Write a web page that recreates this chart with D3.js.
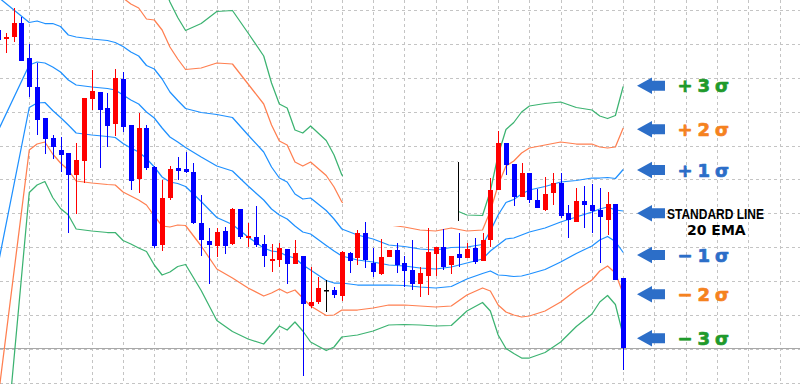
<!DOCTYPE html>
<html><head><meta charset="utf-8">
<script src="https://cdn.jsdelivr.net/npm/d3@7"></script>
<style>html,body{margin:0;padding:0;background:#fff;overflow:hidden}</style>
</head><body>
<svg id="chart" width="800" height="384"></svg>
<script>
// ---------- DATA (price in points) ----------
const candleOpen  = [353,344,346,360,325,296,265,245,233,230,208,222,284,291,275,259,304,258,204,255,216,138,185,215,214,211,160,142,137,152,139,174,145,146,139,122,123,134,119,127,77,81,93,93,87,130,125,150,120,109,126,133,120,113,99,107,129,136,118,129,125,135,122,143,193,240,219,186,210,183,173,190,200,170,161,182,178,173,163,179,105];
const candleHigh  = [355,350,375,366,339,320,265,248,246,230,240,285,313,291,290,314,311,258,270,258,217,203,217,226,231,220,188,155,155,156,175,174,160,177,148,139,140,134,143,127,116,106,103,96,132,131,153,161,135,144,133,140,127,143,116,155,136,154,127,150,140,145,150,205,252,240,219,220,210,194,206,210,210,178,195,197,199,195,191,179,105];
const candleLow   = [341,330,341,322,286,248,229,224,211,150,169,200,273,215,236,247,251,193,190,213,135,132,183,203,210,159,127,99,126,129,138,144,136,136,116,111,116,99,119,7,75,79,71,85,82,110,118,115,106,108,126,110,96,93,86,88,107,113,109,116,125,119,122,136,193,208,177,186,180,175,172,178,165,145,161,155,150,120,148,103,13];
const candleClose = [343,346,360,322,296,263,244,236,228,208,223,285,292,273,257,305,256,202,255,215,137,185,214,212,211,160,143,138,151,137,174,146,147,138,127,124,135,119,130,79,81,95,93,88,131,122,150,123,111,126,133,118,112,99,110,131,136,116,127,125,134,121,143,193,240,218,186,210,183,175,189,200,167,163,182,178,172,166,179,103,35];

// Bollinger bands (20 EMA) read at bar indices
const bandIndex = [0,4,5,6,7,8,9,10,12,14,15,16,17,18,19,20,21,22,23,24,26,28,30,32,34,35,36,37,38,39,40,42,43,44,46,48,50,52,54,56,58,60,62,63,64,65,66,67,68,70,72,74,76,77,78,79,80];
const bandMid = [252,318,321,320,316,311,303,298,296,294.5,293,288,283,279,271,265,255,246,241,235.5,226,217,212,197,183,174,168,164,157,151,149,137.5,132,127,123,121,118,117,115,114,116,120,124,132,138,144,145,148,151,155,161,166,171,174,176,173,172];
const bandUp1 = [386,360.5,362,359.5,359.5,356.5,348,346,344,342.5,340.5,336.5,331,327,317.5,314,304,291,282.5,274.5,270.5,268.5,265.5,248,231,216,205,201,189,184,185,172.5,164,154,148,144,138,136.5,134,133,135.5,136,138.5,152,168,180.5,183.5,189,193,196.5,201,202.5,205,205,205.5,204.5,213.5];
const bandUp2 = [520,403,403,399,403,402,393,394,392,390.5,388,385,379,375,364,363,353,336,324,313.5,315,320,319,299,279,258,242,238,221,217,221,207.5,196,181,173,167,158,156,153,152,155,152,153,172,198,217,222,230,235,238,241,239,239,236,235,236,255];
const bandUp3 = [654,445.5,444,438.5,446.5,447.5,438,442,440,438.5,435.5,433.5,427,423,410.5,412,402,381,365.5,352.5,359.5,371.5,372.5,350,327,300,279,275,253,250,257,242.5,228,208,198,190,178,175.5,172,171,174.5,168,167.5,192,228,253.5,260.5,271,277,279.5,281,275.5,273,267,264.5,267.5,296.5];
const bandLo1 = [118,275.5,280,280.5,272.5,265.5,258,250,248,246.5,245.5,239.5,235,231,224.5,216,206,201,199.5,196.5,181.5,165.5,158.5,146,135,132,131,127,125,118,113,102.5,100,100,98,98,98,97.5,96,95,96.5,104,109.5,112,108,107.5,106.5,107,109,113.5,121,129.5,137,143,146.5,141.5,130.5];
const bandLo2 = [-16,233,239,241,229,220,213,202,200,198.5,198,191,187,183,178,167,157,156,158,157.5,137,114,105,95,87,90,94,90,93,85,77,67.5,68,73,73,75,78,78,77,76,77,88,95,92,78,71,68,66,67,72,81,93,103,112,117,110,89];
const bandLo3 = [-150,190.5,198,201.5,185.5,174.5,168,154,152,150.5,150.5,142.5,139,135,131.5,118,108,111,116.5,118.5,92.5,62.5,51.5,44,39,48,57,53,61,52,41,32.5,36,46,48,52,58,58.5,58,57,57.5,72,80.5,72,48,34.5,29.5,25,25,30.5,41,56.5,69,81,87.5,78.5,47.5];

const sigmaLabels = ["+3σ","+2σ","+1σ","−1σ","−2σ","−3σ"];
const midLabels = ["STANDARD LINE","20 EMA"];

// ---------- LAYOUT / STYLE ----------
const W = 800, H = 384;
const svg = d3.select("#chart");
const x = d3.scaleLinear().domain([0, 100]).range([-2, 779.5]);
const y = d3.scaleLinear().domain([0, 383]).range([383, 0]);
const crisp = v => Math.round(v) + 0.5;

const blueUp = "#1e90ff", coral = "#ff7f50", green = "#3cb371";
const labelGreen = "#1f9a2c", labelOrange = "#f5821f", labelBlue = "#2c6ec8";

svg.append("rect").attr("width", W).attr("height", H).attr("fill", "#fff");

// grid
const grid = svg.append("g").attr("stroke", "#c4c4c4").attr("stroke-width", 1).attr("stroke-dasharray", "3,3");
d3.range(4, 101, 4).forEach(i => {
  grid.append("line").attr("x1", crisp(x(i))).attr("x2", crisp(x(i))).attr("y1", 0).attr("y2", H);
});
const gridStep = 33.9;
d3.range(12).forEach(k => {
  const v = 373 - k * gridStep;
  grid.append("line").attr("x1", 0).attr("x2", W).attr("y1", crisp(y(v))).attr("y2", crisp(y(v)));
});

// bid line at last close
svg.append("line").attr("x1", 0).attr("x2", W)
  .attr("y1", crisp(y(candleClose[candleClose.length - 1]))).attr("y2", crisp(y(candleClose[candleClose.length - 1])))
  .attr("stroke", "#a8a8a8").attr("stroke-width", 1);

// bands
const bands = [
  {vals: bandUp3, color: green}, {vals: bandUp2, color: coral}, {vals: bandUp1, color: blueUp},
  {vals: bandMid, color: blueUp},
  {vals: bandLo1, color: blueUp}, {vals: bandLo2, color: coral}, {vals: bandLo3, color: green}
];
const line = d3.line().x(d => x(d[0])).y(d => y(d[1]));
bands.forEach(b => {
  svg.append("path").attr("d", line(bandIndex.map((idx, k) => [idx, b.vals[k]])))
    .attr("fill", "none").attr("stroke", b.color).attr("stroke-width", 1.25).attr("stroke-linejoin", "round");
});

// pasted white box
const box = svg.append("g");
box.append("rect").attr("x", 343).attr("y", 161).attr("width", 115).attr("height", 65).attr("fill", "#fff");
const bg = box.append("g").attr("stroke", "#d0d0d0").attr("stroke-dasharray", "3,3");
[44, 48, 52, 56].forEach(i => {
  const xx = crisp(x(i));
  if (xx > 343 && xx < 458) bg.append("line").attr("x1", xx).attr("x2", xx).attr("y1", 161).attr("y2", 226);
});
bg.append("line").attr("x1", 343).attr("x2", 458).attr("y1", 191.5).attr("y2", 191.5);
bg.append("line").attr("x1", 343).attr("x2", 458).attr("y1", 161.5).attr("y2", 161.5);
box.append("line").attr("x1", 458.5).attr("x2", 458.5).attr("y1", 162).attr("y2", 221).attr("stroke", "#000").attr("stroke-width", 1);

// candles
const cg = svg.append("g");
candleOpen.forEach((o, i) => {
  const c = candleClose[i], hi = candleHigh[i], lo = candleLow[i];
  const col = c > o ? "#ff0000" : (c < o ? "#0000ff" : "#000000");
  const cx = Math.round(x(i));
  cg.append("line").attr("x1", cx + 0.5).attr("x2", cx + 0.5).attr("y1", y(hi)).attr("y2", y(lo))
    .attr("stroke", col).attr("stroke-width", 1);
  const top = y(Math.max(o, c)), bot = y(Math.min(o, c));
  cg.append("rect").attr("x", cx - 2).attr("y", top).attr("width", 5).attr("height", Math.max(1.5, bot - top)).attr("fill", col);
});

// annotation arrows + labels
const arrowY = [85.7, 129.2, 170, 213.3, 255, 294.2, 338.3];
const arrowPath = cy => `M637,${cy} L652,${cy - 8.3} L652,${cy - 5} L665,${cy - 5} L665,${cy + 5} L652,${cy + 5} L652,${cy + 8.3} Z`;
const ann = svg.append("g");
arrowY.forEach(cy => ann.append("path").attr("d", arrowPath(cy)).attr("fill", labelBlue));
const sigmaColors = [labelGreen, labelOrange, labelBlue, labelBlue, labelOrange, labelGreen];
const sigmaY = [arrowY[0], arrowY[1], arrowY[2], arrowY[4], arrowY[5], arrowY[6]];
sigmaLabels.forEach((t, k) => {
  ann.append("text").attr("x", 677.5).attr("y", sigmaY[k] + 6.7)
    .attr("font-family", "'DejaVu Sans', sans-serif").attr("font-weight", "bold").attr("font-size", 18)
    .attr("letter-spacing", 5).attr("fill", sigmaColors[k])
    .attr("stroke", sigmaColors[k]).attr("stroke-width", 0.7).attr("stroke-linejoin", "round").text(t);
});
ann.append("text").attr("x", 667).attr("y", 219.3)
  .attr("font-family", "'Liberation Sans Narrow', 'Liberation Sans', Arial, sans-serif").attr("font-weight", "bold")
  .attr("font-size", 14).attr("textLength", 97).attr("lengthAdjust", "spacingAndGlyphs").attr("fill", "#000").text(midLabels[0]);
ann.append("text").attr("x", 687).attr("y", 235)
  .attr("font-family", "'DejaVu Sans', sans-serif").attr("font-weight", "bold")
  .attr("font-size", 14).attr("fill", "#000").text(midLabels[1]);
</script>
</body></html>
